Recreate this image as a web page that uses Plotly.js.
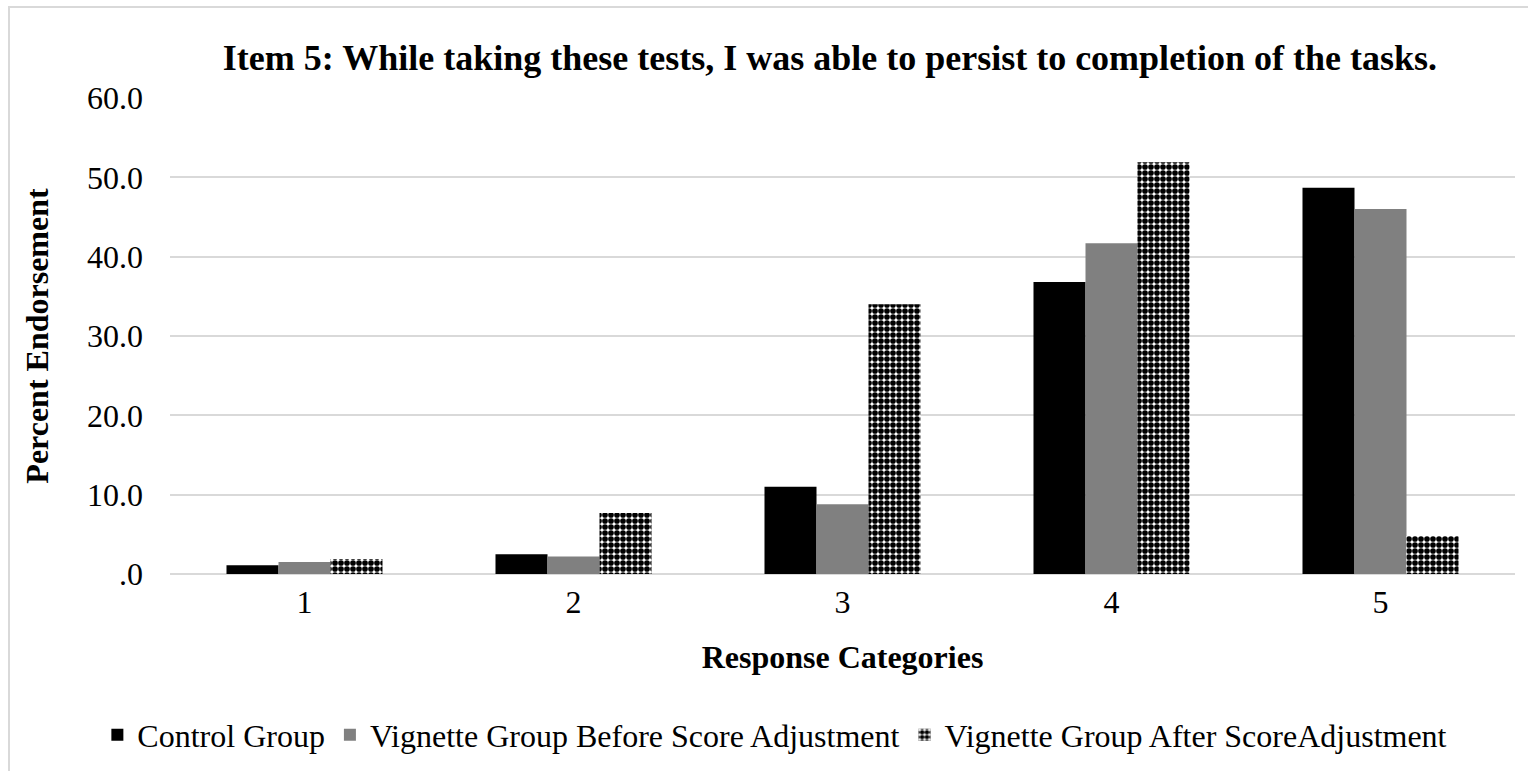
<!DOCTYPE html>
<html>
<head>
<meta charset="utf-8">
<script src="https://cdn.plot.ly/plotly-3.0.1.min.js"></script>
<style>
  html, body { margin: 0; padding: 0; background: #fff; }
  #wrap { position: relative; width: 1528px; height: 771px; overflow: hidden; }
  #chart { position: absolute; left: 0; top: 0; width: 1528px; height: 771px; }
  #frame { position: absolute; left: 8px; top: 6px; width: 1540px; height: 800px;
           border: 2px solid #d9d9d9; pointer-events: none; box-sizing: border-box; }
</style>
</head>
<body>
<div id="wrap">
  <div id="chart"></div>
  <div id="frame"></div>
</div>
<script>
const categories = ['1', '2', '3', '4', '5'];
const controlGroup = [1.1, 2.5, 11.0, 36.8, 48.7];
const vignetteBefore = [1.5, 2.2, 8.8, 41.7, 46.0];
const vignetteAfter = [1.9, 7.7, 34.0, 51.9, 4.8];
const yTickVals = [0, 10, 20, 30, 40, 50, 60];
const yTickText = ['.0', '10.0', '20.0', '30.0', '40.0', '50.0', '60.0'];

const font = '"Liberation Serif", "Times New Roman", serif';

const traces = [
  {
    type: 'bar', name: 'Control Group', x: categories, y: controlGroup,
    marker: { color: '#000000', line: { width: 0 } }
  },
  {
    type: 'bar', name: 'Vignette Group Before Score Adjustment', x: categories, y: vignetteBefore,
    marker: { color: '#808080', line: { width: 0 } }
  },
  {
    type: 'bar', name: 'Vignette Group After ScoreAdjustment', x: categories, y: vignetteAfter,
    marker: {
      color: '#ffffff', line: { width: 0 },
      pattern: { shape: '.', fgcolor: '#000000', bgcolor: '#ffffff', size: 6, solidity: 0.7, fillmode: 'replace' }
    }
  }
];

const layout = {
  width: 1528, height: 771,
  margin: { l: 170, r: 13, t: 98, b: 197, autoexpand: false },
  paper_bgcolor: '#ffffff', plot_bgcolor: '#ffffff',
  font: { family: font, color: '#000000', size: 32 },
  barmode: 'group', bargap: 0.42, bargroupgap: 0,
  title: {
    text: '<b>Item 5: While taking these tests, I was able to persist to completion of the tasks.</b>',
    font: { family: font, size: 36, color: '#000000' },
    x: 830 / 1528, xref: 'container', xanchor: 'center', y: 1 - 57 / 771, yref: 'container', yanchor: 'middle'
  },
  xaxis: {
    type: 'category',
    showgrid: false, zeroline: false,
    showline: false, ticks: '',
    ticklabelstandoff: 6,
    tickfont: { family: font, size: 32, color: '#000000' },
    title: { text: '<b>Response Categories</b>', font: { family: font, size: 32, color: '#000000' }, standoff: 26 }
  },
  yaxis: {
    range: [0, 60],
    tickvals: yTickVals, ticktext: yTickText,
    showgrid: true, gridcolor: '#d9d9d9', gridwidth: 2,
    zeroline: true, zerolinecolor: '#d9d9d9', zerolinewidth: 2,
    showline: false, ticks: '', ticklen: 0,
    ticklabelstandoff: 26,
    tickfont: { family: font, size: 32, color: '#000000' },
    title: { text: '<b>Percent Endorsement</b>', font: { family: font, size: 32, color: '#000000' }, standoff: 28 }
  },
  legend: {
    orientation: 'h', xref: 'paper', x: -0.054, xanchor: 'left', y: -0.338, yanchor: 'middle',
    font: { family: font, size: 32, color: '#000000' },
    itemwidth: 30, traceorder: 'normal', bgcolor: 'rgba(0,0,0,0)'
  },
  showlegend: true
};

Plotly.newPlot('chart', traces, layout, { displayModeBar: false, staticPlot: true });
</script>
</body>
</html>
